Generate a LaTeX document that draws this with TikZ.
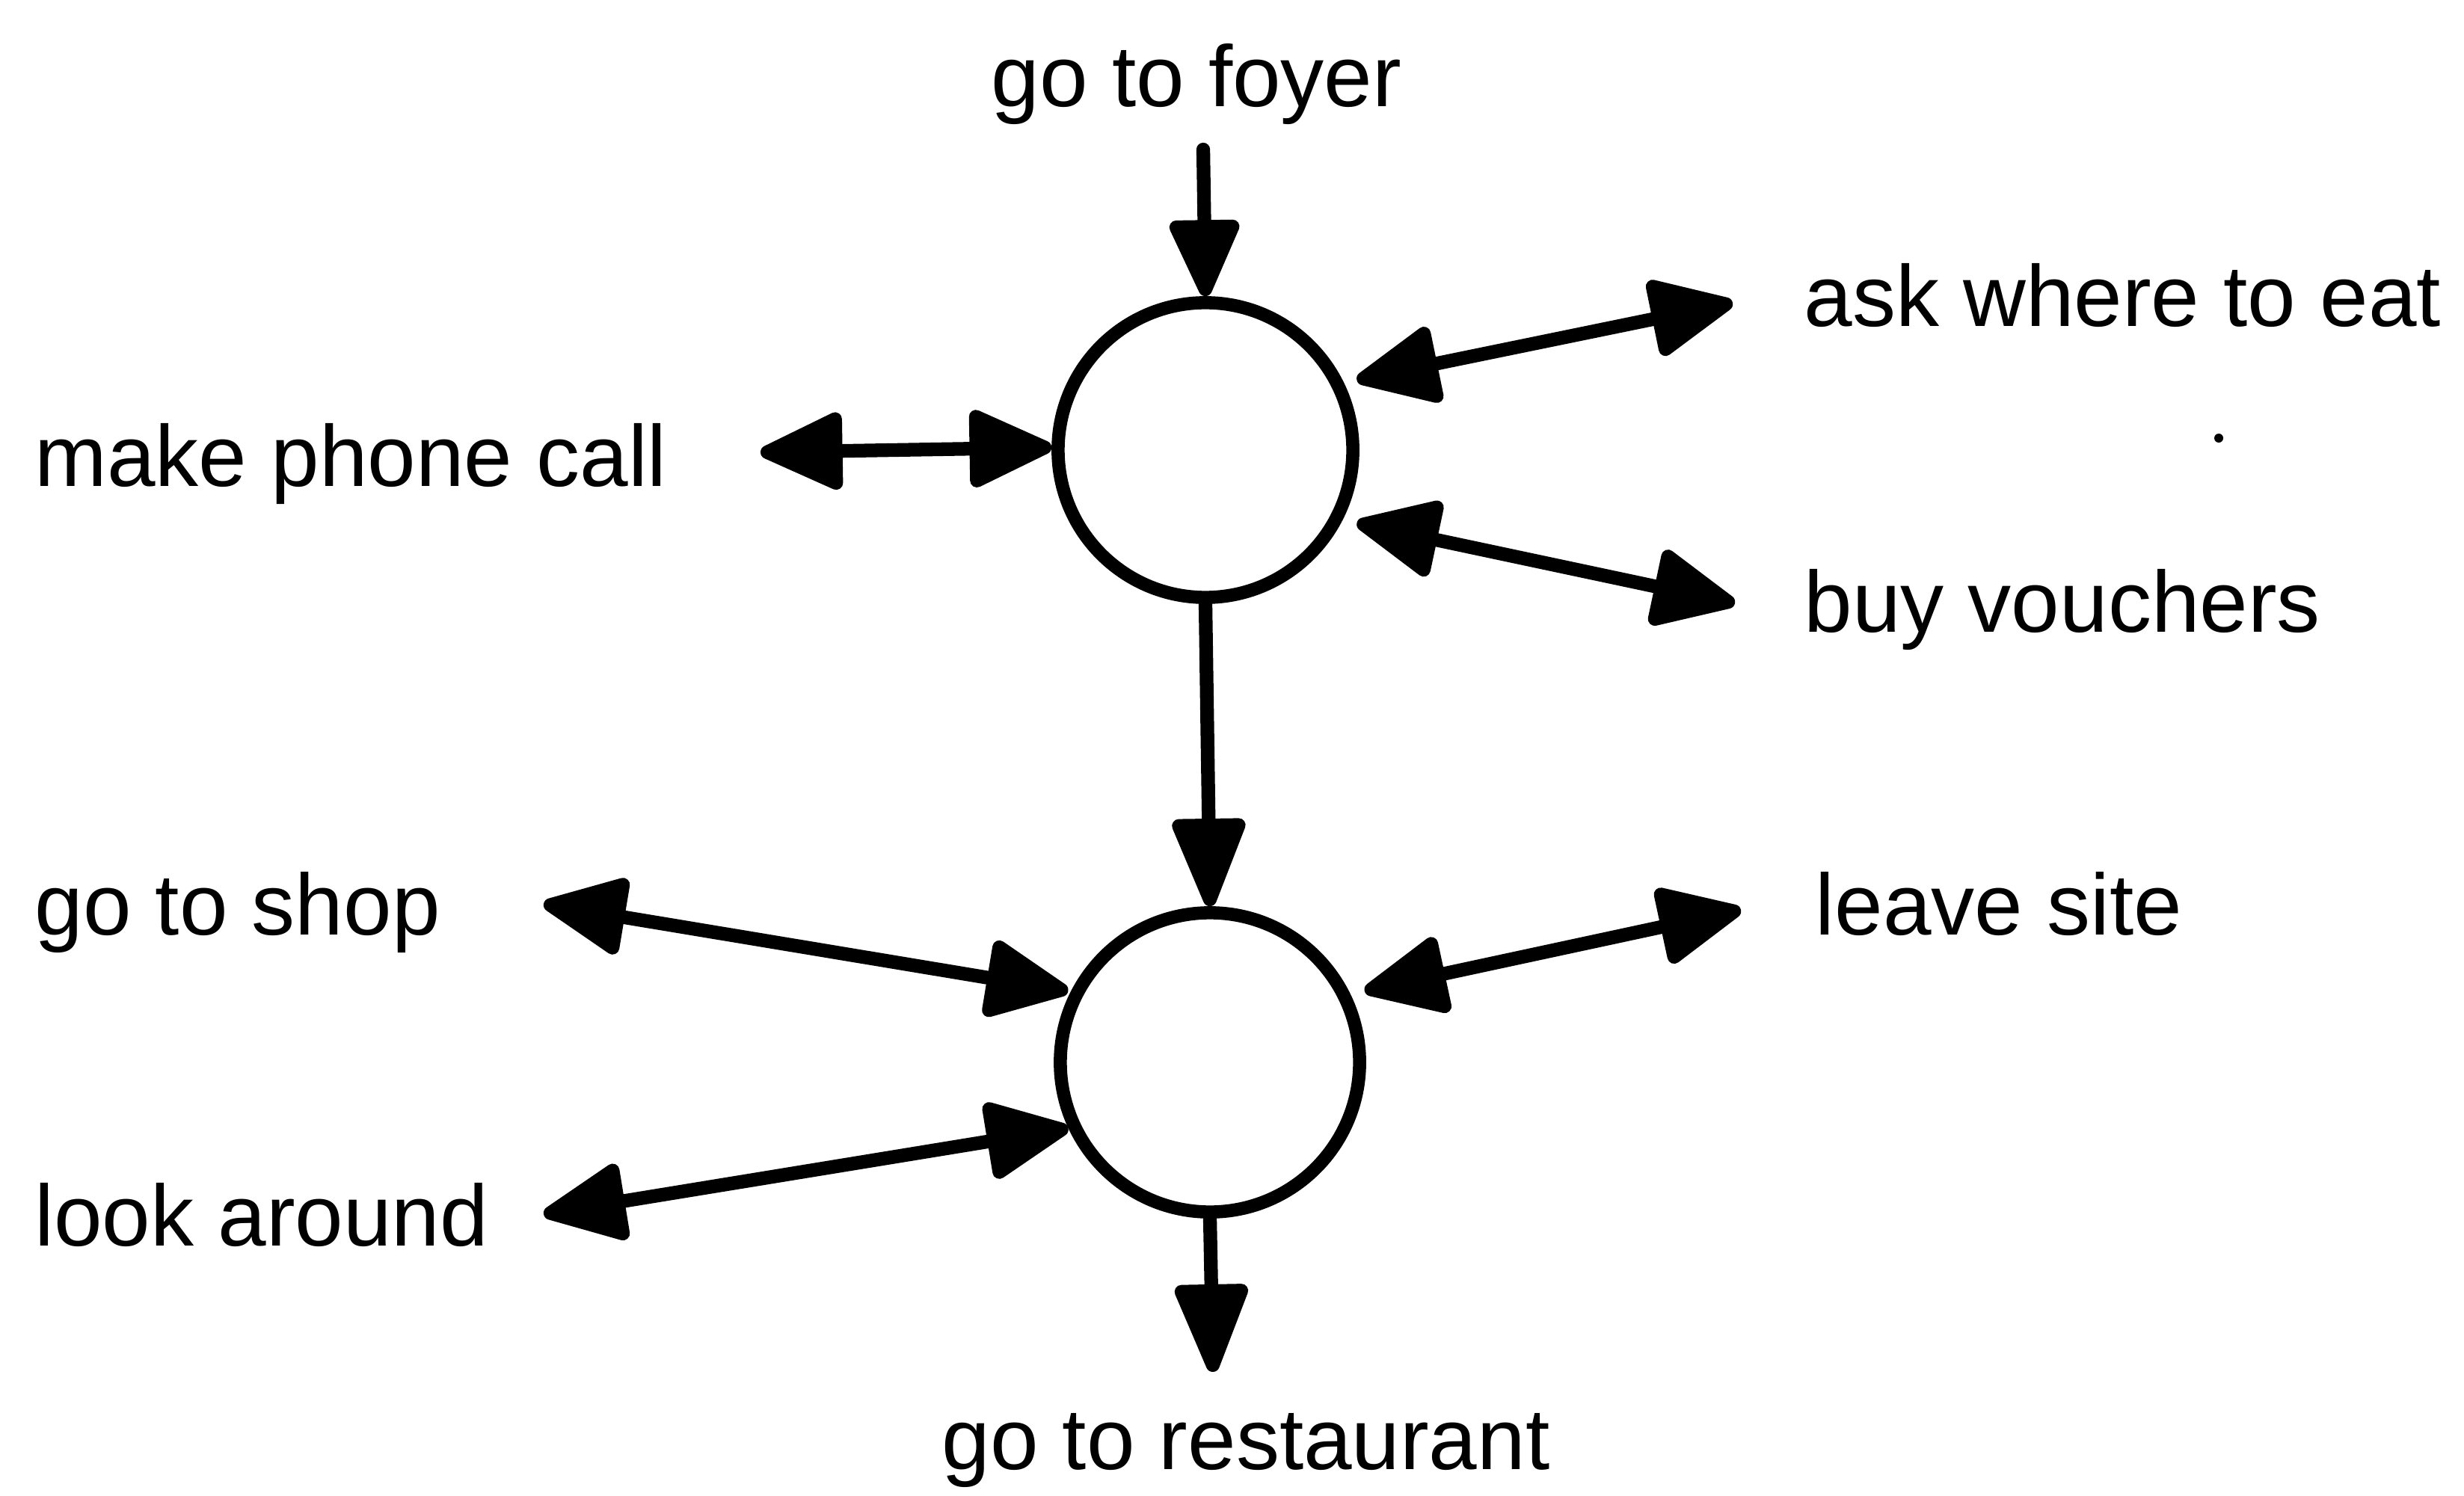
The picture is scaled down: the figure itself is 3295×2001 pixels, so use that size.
\documentclass[tikz,border=0pt]{standalone}
\usepackage{fontspec}
\setmainfont{Liberation Sans}
\usetikzlibrary{arrows.meta}
\begin{document}
\begin{tikzpicture}[x=0.01cm,y=-0.01cm,
  state/.style={circle,draw,line width=5pt,minimum size=#1,inner sep=0pt},
  lbl/.style={inner sep=0pt,font=\fontsize{33pt}{40pt}\selectfont},
  conn/.style={line width=5.2pt,line cap=round},
  bighead/.tip={Triangle[length=35pt,width=31pt,round]},
  downhead/.tip={Triangle[length=38pt,width=29pt,round]},
  foyerhead/.tip={Triangle[length=33pt,width=28pt,round]},
]
% page
\fill[white] (0,0) rectangle (3295,2001);
\useasboundingbox (0,0) rectangle (3295,2001);

% the two states
\node[state=3.94cm] (c1) at (1612,602) {};
\node[state=4.00cm] (c2) at (1618,1421) {};

% labels
\node[lbl,anchor=base] (foyer) at (1600,143) {go to foyer};
\node[lbl,anchor=base west] (phone) at (46,651) {make phone call};
\node[lbl,anchor=base west] (ask) at (2412,437) {ask where to eat};
\node[lbl,anchor=base west] (buy) at (2412,845) {buy vouchers};
\node[lbl,anchor=base west] (shop) at (46,1250) {go to shop};
\node[lbl,anchor=base west] (leave) at (2427,1250) {leave site};
\node[lbl,anchor=base west] (look) at (46,1666) {look around};
\node[lbl,anchor=base] (rest) at (1666,1965) {go to restaurant};

% free ends of the connectors, next to their labels
\coordinate (foyerEnd) at (1609,200);
\coordinate (phoneEnd) at (1017,605);
\coordinate (askEnd) at (2317,405);
\coordinate (buyEnd) at (2320,807);
\coordinate (shopEnd) at (727,1209);
\coordinate (lookEnd) at (727,1624);
\coordinate (leaveEnd) at (2328,1217);
\coordinate (restEnd) at (1622,1835);

% main flow
\draw[conn,-foyerhead] (foyerEnd) -- (c1.north);
\draw[conn,-downhead] (c1.south) -- (c2.north);
\draw[conn,-downhead] (c2.south) -- (restEnd);

% side activities
\draw[conn,bighead-bighead] (phoneEnd) -- (c1.179);
\draw[conn,bighead-bighead,shorten >=5pt] (askEnd) -- (c1.26);
\draw[conn,bighead-bighead,shorten >=5.5pt] (buyEnd) -- (c1.-27);
\draw[conn,bighead-bighead,shorten >=1pt] (shopEnd) -- (c2.153);
\draw[conn,bighead-bighead] (lookEnd) -- (c2.205);
\draw[conn,bighead-bighead,shorten >=5.5pt] (leaveEnd) -- (c2.26);

% stray speck
\fill (2967,586) circle (6);
\end{tikzpicture}
\end{document}
